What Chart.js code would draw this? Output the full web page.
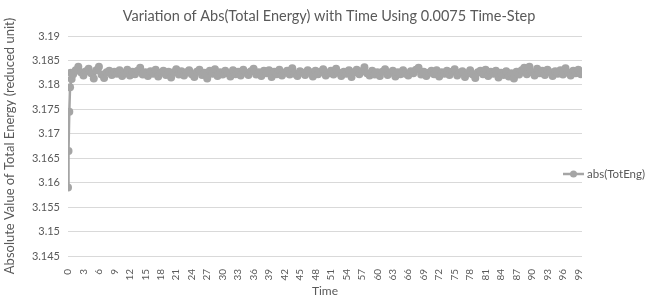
<!DOCTYPE html>
<html>
<head>
<meta charset="utf-8">
<script src="https://cdn.jsdelivr.net/npm/chart.js@4/dist/chart.umd.min.js"></script>
<style>
html,body{margin:0;padding:0;background:#fff;}
#wrap{width:658px;height:304px;position:relative;}
</style>
</head>
<body>
<div id="wrap"><canvas id="c" width="658" height="304"></canvas></div>
<script>
const chartTitle = "Variation of Abs(Total Energy) with Time Using 0.0075 Time-Step";
const xTitle = "Time";
const yTitle = "Absolute Value of Total Energy (reduced unit)";
const seriesName = "abs(TotEng)";

const times = [0, 0.1, 0.25, 0.4, 0.55, 0.7,
  1, 1.5, 2, 2.5, 3, 3.5, 4, 4.5, 5, 5.5,
  6, 6.5, 7, 7.5, 8, 8.5, 9, 9.5, 10, 10.5,
  11, 11.5, 12, 12.5, 13, 13.5, 14, 14.5, 15, 15.5,
  16, 16.5, 17, 17.5, 18, 18.5, 19, 19.5, 20, 20.5,
  21, 21.5, 22, 22.5, 23, 23.5, 24, 24.5, 25, 25.5,
  26, 26.5, 27, 27.5, 28, 28.5, 29, 29.5, 30, 30.5,
  31, 31.5, 32, 32.5, 33, 33.5, 34, 34.5, 35, 35.5,
  36, 36.5, 37, 37.5, 38, 38.5, 39, 39.5, 40, 40.5,
  41, 41.5, 42, 42.5, 43, 43.5, 44, 44.5, 45, 45.5,
  46, 46.5, 47, 47.5, 48, 48.5, 49, 49.5, 50, 50.5,
  51, 51.5, 52, 52.5, 53, 53.5, 54, 54.5, 55, 55.5,
  56, 56.5, 57, 57.5, 58, 58.5, 59, 59.5, 60, 60.5,
  61, 61.5, 62, 62.5, 63, 63.5, 64, 64.5, 65, 65.5,
  66, 66.5, 67, 67.5, 68, 68.5, 69, 69.5, 70, 70.5,
  71, 71.5, 72, 72.5, 73, 73.5, 74, 74.5, 75, 75.5,
  76, 76.5, 77, 77.5, 78, 78.5, 79, 79.5, 80, 80.5,
  81, 81.5, 82, 82.5, 83, 83.5, 84, 84.5, 85, 85.5,
  86, 86.5, 87, 87.5, 88, 88.5, 89, 89.5, 90, 90.5,
  91, 91.5, 92, 92.5, 93, 93.5, 94, 94.5, 95, 95.5,
  96, 96.5, 97, 97.5, 98, 98.5, 99, 99.5];

const totEng = [3.1590, 3.1665, 3.1745, 3.1795, 3.1825, 3.1812,
  3.1822, 3.1830, 3.1837, 3.1826, 3.1819, 3.1828, 3.1833, 3.1824, 3.1813, 3.1830,
  3.1837, 3.1821, 3.1814, 3.1826, 3.1829, 3.1820, 3.1827, 3.1823, 3.1830, 3.1818,
  3.1825, 3.1831, 3.1819, 3.1827, 3.1822, 3.1829, 3.1835, 3.1821, 3.1826, 3.1818,
  3.1828, 3.1823, 3.1831, 3.1817, 3.1825, 3.1829, 3.1820, 3.1827, 3.1815, 3.1826,
  3.1832, 3.1821, 3.1828, 3.1819, 3.1826, 3.1830, 3.1822, 3.1816, 3.1827, 3.1831,
  3.1820, 3.1825, 3.1813, 3.1829, 3.1823, 3.1832, 3.1818, 3.1826, 3.1821, 3.1829,
  3.1824, 3.1817, 3.1830, 3.1822, 3.1827, 3.1819, 3.1831, 3.1825, 3.1820, 3.1828,
  3.1833, 3.1821, 3.1826, 3.1818, 3.1829, 3.1824, 3.1830, 3.1816, 3.1827, 3.1822,
  3.1831, 3.1819, 3.1825, 3.1829, 3.1821, 3.1834, 3.1823, 3.1818, 3.1828, 3.1825,
  3.1820, 3.1830, 3.1826, 3.1817, 3.1829, 3.1822, 3.1827, 3.1832, 3.1819, 3.1824,
  3.1829, 3.1821, 3.1833, 3.1825, 3.1818, 3.1827, 3.1823, 3.1830, 3.1816, 3.1826,
  3.1831, 3.1822, 3.1828, 3.1836, 3.1824, 3.1819, 3.1829, 3.1821, 3.1826, 3.1818,
  3.1827, 3.1832, 3.1820, 3.1825, 3.1829, 3.1817, 3.1826, 3.1822, 3.1830, 3.1823,
  3.1819, 3.1828, 3.1824, 3.1831, 3.1835, 3.1821, 3.1827, 3.1818, 3.1825, 3.1829,
  3.1822, 3.1830, 3.1817, 3.1826, 3.1823, 3.1829, 3.1820, 3.1827, 3.1832, 3.1819,
  3.1825, 3.1828, 3.1816, 3.1824, 3.1830, 3.1821, 3.1814, 3.1826, 3.1829, 3.1822,
  3.1831, 3.1818, 3.1827, 3.1823, 3.1829, 3.1815, 3.1825, 3.1820, 3.1828, 3.1817,
  3.1824, 3.1813, 3.1827, 3.1821, 3.1830, 3.1835, 3.1822, 3.1837, 3.1826, 3.1819,
  3.1833, 3.1824, 3.1829, 3.1820, 3.1831, 3.1826, 3.1818, 3.1828, 3.1823, 3.1830,
  3.1821, 3.1834, 3.1825, 3.1819, 3.1829, 3.1824, 3.1831, 3.1822];

const xTickStep = 3;
const yTicks = [3.145, 3.15, 3.155, 3.16, 3.165, 3.17, 3.175, 3.18, 3.185, 3.19];

const FONT = "Lato, 'Open Sans', sans-serif";
const TXT = '#595959';
const SERIES = '#a5a5a5';

const centerTitle = {
  id: 'centerTitle',
  afterLayout(chart) {
    const tb = chart.titleBlock;
    if (tb) { tb.left = 0; tb.right = chart.width; tb.width = chart.width; }
  }
};

const legendPlugin = {
  id: 'sideLegend',
  afterDraw(chart) {
    const ctx = chart.ctx;
    const ds = chart.data.datasets[0];
    const y = 174;
    const x0 = 563, x1 = 584;
    ctx.save();
    ctx.strokeStyle = SERIES; ctx.lineWidth = 2.5;
    ctx.beginPath(); ctx.moveTo(x0, y); ctx.lineTo(x1, y); ctx.stroke();
    ctx.fillStyle = SERIES;
    ctx.beginPath(); ctx.arc((x0 + x1) / 2, y, 3.5, 0, Math.PI * 2); ctx.fill();
    ctx.fillStyle = TXT;
    ctx.font = "11.5px " + FONT;
    ctx.textBaseline = 'middle';
    ctx.fillText(ds.label, x1 + 3, y);
    ctx.restore();
  }
};

new Chart(document.getElementById('c'), {
  type: 'line',
  data: {
    datasets: [{
      label: seriesName,
      data: times.map((t, i) => ({x: t, y: totEng[i]})),
      borderColor: SERIES,
      backgroundColor: SERIES,
      borderWidth: 2.5,
      pointRadius: 4,
      pointBorderWidth: 0,
      pointBackgroundColor: SERIES,
      tension: 0
    }]
  },
  plugins: [centerTitle, legendPlugin],
  options: {
    responsive: false,
    animation: false,
    devicePixelRatio: 1,
    layout: {padding: {left: 2, right: 76, top: 0, bottom: 6}},
    plugins: {
      legend: {display: false},
      tooltip: {enabled: false},
      title: {
        display: true,
        text: chartTitle,
        color: TXT,
        font: {family: FONT, size: 14.5, weight: 'normal', lineHeight: 1.2},
        padding: {top: 8, bottom: 10.6}
      }
    },
    scales: {
      x: {
        type: 'linear',
        min: 0,
        max: 99.7,
        grid: {display: false},
        border: {display: false},
        ticks: {
          stepSize: xTickStep,
          includeBounds: false,
          autoSkip: false,
          maxRotation: 90,
          minRotation: 90,
          color: TXT,
          padding: 5,
          font: {family: FONT, size: 10},
          callback: v => String(Math.round(v))
        },
        title: {display: true, text: xTitle, color: TXT, font: {family: FONT, size: 12}, padding: 0},
        afterFit(s) { s.height = 42; }
      },
      y: {
        min: 3.145,
        max: 3.19,
        grid: {color: '#d9d9d9', lineWidth: 1, drawTicks: false},
        border: {display: false},
        afterBuildTicks(s) { s.ticks = yTicks.map(v => ({value: v})); },
        ticks: {
          color: TXT,
          padding: 8,
          font: {family: FONT, size: 11},
          callback: v => String(parseFloat(Number(v).toFixed(3)))
        },
        title: {display: true, text: yTitle, color: TXT, font: {family: FONT, size: 13}, padding: 0},
        afterFit(s) { s.width = 66; }
      }
    }
  }
});
</script>
</body>
</html>
